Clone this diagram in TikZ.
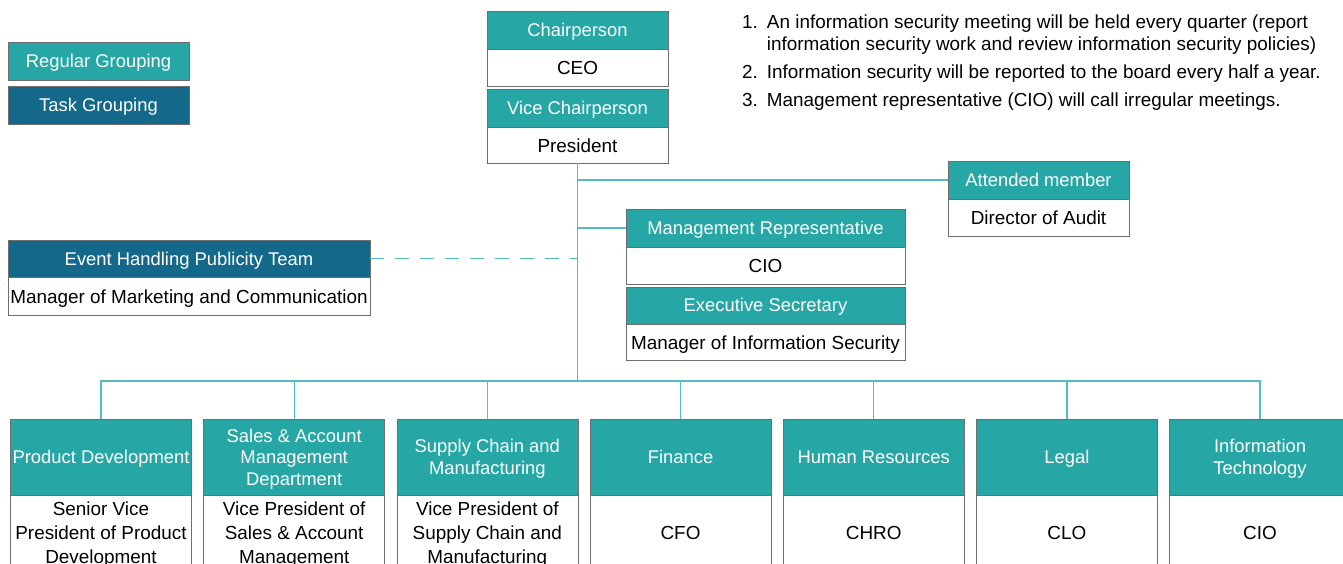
\documentclass[tikz,border=0pt]{standalone}
\usepackage{fontspec}
\setmainfont{Liberation Sans}
\usepackage{xcolor}
\usepackage{tikz}
\usetikzlibrary{positioning}

\definecolor{regteal}{HTML}{27A6A6}
\definecolor{taskblue}{HTML}{14698A}
\definecolor{linkteal}{HTML}{55BDBD}
\definecolor{boxgray}{HTML}{6E6E6E}

\newcommand{\headfont}{\fontsize{18.4}{21.5}\selectfont}
\newcommand{\bodyfont}{\fontsize{18.9}{24}\selectfont}

\tikzset{
  head/.style={draw=boxgray, fill=regteal, text=white, minimum width=181, minimum height=38, inner sep=1pt, text depth=0pt, align=center, font=\headfont},
  taskhead/.style={head, fill=taskblue},
  body/.style={draw=boxgray, fill=white, text=black, minimum width=181, minimum height=37, inner sep=1pt, text depth=0pt, align=center, font=\bodyfont},
  link/.style={draw=linkteal, line width=1.3pt}
}

\begin{document}
\begin{tikzpicture}[x=1pt, y=-1pt]
		\clip (0,0) rectangle (1343,564);
		\fill[white] (0,0) rectangle (1343,564);

		% legend
		\node[head] (reg) at (98.5,61) {Regular Grouping};
		\node[taskhead] (task) at (98.5,105) {Task Grouping};

		% board
		\node[head] (chair) at (577.5,30) {Chairperson};
		\node[body, below=0pt of chair] (ceo) {CEO};
		\node[head, below=2pt of ceo] (vice) {Vice Chairperson};
		\node[body, minimum height=36, below=0pt of vice] (pres) {President};

		\node[anchor=north west, inner sep=0pt, font=\fontsize{18.9}{21.5}\selectfont] (notes) at (742,13.5) {%
			\begin{tabular}{@{}l@{\hspace{9pt}}l@{}}
			1. & An information security meeting will be held every quarter (report\\
			   & information security work and review information security policies)\\[6.5pt]
			2. & Information security will be reported to the board every half a year.\\[6.5pt]
			3. & Management representative (CIO) will call irregular meetings.
			\end{tabular}};

		\node[head] (attend) at (1038.5,180) {Attended member};
		\node[body, below=0pt of attend] (audit) {Director of Audit};

		\node[head, minimum width=279] (mgmt) at (765.5,228) {Management Representative};
		\node[body, minimum width=279, below=0pt of mgmt] (cio) {CIO};
		\node[head, minimum width=279, minimum height=37, below=2pt of cio] (secr) {Executive Secretary};
		\node[body, minimum width=279, minimum height=36, below=0pt of secr] (infosec) {Manager of Information Security};

		\node[taskhead, minimum width=362, minimum height=37] (event) at (189,258.5) {Event Handling Publicity Team};
		\node[body, minimum width=362, minimum height=38, below=0pt of event] (market) {Manager of Marketing and Communication};

		\coordinate (bus) at (577.5,381);
		\draw[link] (pres.south) -- (bus);
		\draw[link] (attend.west -| pres.south) -- (attend.west);
		\draw[link] (mgmt.west -| pres.south) -- (mgmt.west);
		\draw[link, dash pattern=on 14pt off 11pt] (event.east) -- (event.east -| pres.south);

		% departments
		\foreach \i/\hd/\bd in {1/{Product Development}/{Senior Vice\\President of Product\\Development},
				2/{Sales \& Account\\Management\\Department}/{Vice President of\\Sales \& Account\\Management},
				3/{Supply Chain and\\Manufacturing}/{Vice President of\\Supply Chain and\\Manufacturing},
				4/{Finance}/{CFO},
				5/{Human Resources}/{CHRO},
				6/{Legal}/{CLO},
				7/{Information\\Technology}/{CIO}}{
			\pgfmathsetmacro\cx{101+(\i-1)*193.17}
			\node[head, minimum height=76] (dept\i) at (\cx,457) {\hd};
			\node[body, minimum height=74, below=0pt of dept\i] (role\i) {\bd};
			\draw[link] (bus) -| (dept\i.north);
		}
	\end{tikzpicture}
\end{document}
